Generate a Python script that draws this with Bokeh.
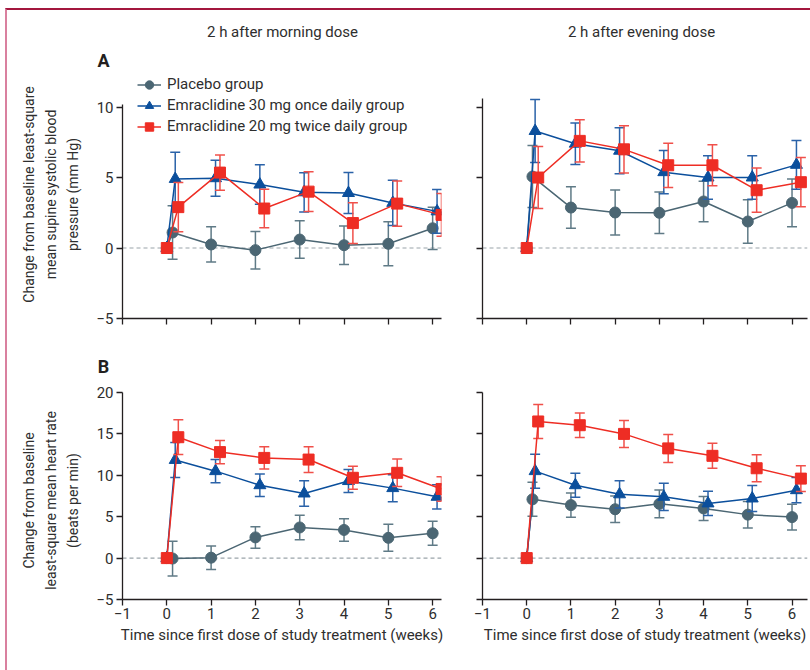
import math
from bokeh.plotting import figure
from bokeh.models import Range1d, FixedTicker, Span, Legend, LegendItem
from bokeh.layouts import column, row
from bokeh.core.properties import value
from bokeh.embed import file_html
from bokeh.resources import INLINE

# ---------------- data ----------------
weeks_placebo = [0, 0.13, 1.0, 2.0, 3.0, 4.0, 5.0, 6.0]
weeks_30mg = [0, 0.19, 1.1, 2.1, 3.1, 4.1, 5.1, 6.1]
weeks_20mg = [0, 0.26, 1.2, 2.2, 3.2, 4.2, 5.2, 6.2]

# A: systolic blood pressure, 2 h after morning dose
sbp_am_placebo = [0, 1.1, 0.25, -0.15, 0.6, 0.2, 0.3, 1.4]
sbp_am_placebo_err = [0, 1.9, 1.25, 1.33, 1.33, 1.37, 1.56, 1.5]
sbp_am_30mg = [0, 4.9, 4.95, 4.5, 3.95, 3.9, 3.2, 2.6]
sbp_am_30mg_err = [0, 1.9, 1.27, 1.4, 1.39, 1.45, 1.6, 1.55]
sbp_am_20mg = [0, 2.9, 5.35, 2.8, 4.0, 1.77, 3.15, 2.35]
sbp_am_20mg_err = [0, 1.74, 1.25, 1.36, 1.41, 1.45, 1.6, 1.52]

# A: systolic blood pressure, 2 h after evening dose
sbp_pm_placebo = [0, 5.07, 2.87, 2.52, 2.5, 3.3, 1.88, 3.2]
sbp_pm_placebo_err = [0, 2.2, 1.47, 1.6, 1.47, 1.43, 1.55, 1.7]
sbp_pm_30mg = [0, 8.3, 7.4, 6.9, 5.38, 5.0, 5.0, 5.9]
sbp_pm_30mg_err = [0, 2.23, 1.47, 1.64, 1.53, 1.54, 1.54, 1.73]
sbp_pm_20mg = [0, 5.0, 7.6, 7.0, 5.87, 5.87, 4.1, 4.67]
sbp_pm_20mg_err = [0, 2.2, 1.5, 1.67, 1.57, 1.46, 1.57, 1.75]

# B: heart rate, 2 h after morning dose
hr_am_placebo = [0, -0.05, 0.05, 2.5, 3.7, 3.4, 2.45, 3.0]
hr_am_placebo_err = [0, 2.1, 1.42, 1.3, 1.49, 1.36, 1.63, 1.45]
hr_am_30mg = [0, 11.85, 10.5, 8.8, 7.8, 9.3, 8.45, 7.4]
hr_am_30mg_err = [0, 2.12, 1.4, 1.35, 1.55, 1.39, 1.63, 1.46]
hr_am_20mg = [0, 14.6, 12.8, 12.1, 11.9, 9.7, 10.3, 8.35]
hr_am_20mg_err = [0, 2.1, 1.4, 1.35, 1.55, 1.39, 1.66, 1.48]

# B: heart rate, 2 h after evening dose
hr_pm_placebo = [0, 7.1, 6.4, 5.9, 6.55, 6.0, 5.25, 4.95]
hr_pm_placebo_err = [0, 2.05, 1.46, 1.6, 1.68, 1.45, 1.6, 1.55]
hr_pm_30mg = [0, 10.5, 8.8, 7.7, 7.4, 6.6, 7.2, 8.2]
hr_pm_30mg_err = [0, 2.05, 1.46, 1.65, 1.65, 1.46, 1.58, 1.52]
hr_pm_20mg = [0, 16.5, 16.05, 15.0, 13.25, 12.35, 10.85, 9.6]
hr_pm_20mg_err = [0, 2.05, 1.48, 1.63, 1.69, 1.51, 1.63, 1.55]

x_ticks = [-1, 0, 1, 2, 3, 4, 5, 6]
sbp_ticks = [-5, 0, 5, 10]
hr_ticks = [-5, 0, 5, 10, 15, 20]

group_names = ["Placebo group", "Emraclidine 30 mg once daily group",
               "Emraclidine 20 mg twice daily group"]
column_titles = ["2 h after morning dose", "2 h after evening dose"]
panel_letters = ["A", "B"]
x_title = "Time since first dose of study treatment (weeks)"
y_title_a = ["Change from baseline least-square", "mean supine systolic blood", "pressure (mm Hg)"]
y_title_b = ["Change from baseline", "least-square mean heart rate", "(beats per min)"]

# ---------------- style ----------------
FONT = "Roboto"
TXT = "#2e2e2e"
AX = "#231f20"
STY = [
    dict(color="#4b6673", err="#5f7a86", marker="circle", size=11),
    dict(color="#0b4f9c", err="#2a62a8", marker="triangle", size=12),
    dict(color="#ee2d24", err="#f0504a", marker="square", size=11),
]


def draw_group(p, x, y, e, st):
    xs = [a for a, b in zip(x, e) if b > 0]
    hi = [v + b for v, b in zip(y, e) if b > 0]
    lo = [v - b for v, b in zip(y, e) if b > 0]
    p.segment(x0=xs, y0=lo, x1=xs, y1=hi, line_color=st["err"], line_width=1.5)
    p.scatter(xs, hi, marker="dash", size=10, line_color=st["err"], line_width=1.5)
    p.scatter(xs, lo, marker="dash", size=10, line_color=st["err"], line_width=1.5)
    ln = p.line(x, y, line_color=st["color"], line_width=1.5)
    sc = p.scatter(x, y, marker=st["marker"], size=st["size"],
                   fill_color=st["color"], line_color=st["color"])
    return ln, sc


def make_fig(width, height, xend, ybot, ytop, ybounds, yticks, mbl, mbr, mbt, mbb,
             xlabels, ylabels):
    p = figure(width=width, height=height, x_range=Range1d(-1, xend),
               y_range=Range1d(ybot, ytop), output_backend="svg",
               toolbar_location=None, min_border_left=mbl, min_border_right=mbr,
               min_border_top=mbt, min_border_bottom=mbb)
    p.outline_line_color = None
    p.grid.visible = False
    for ax in (p.xaxis, p.yaxis):
        ax.axis_line_color = AX
        ax.axis_line_width = 1.3
        ax.major_tick_line_color = AX
        ax.major_tick_line_width = 1.3
        ax.major_tick_out = 6
        ax.major_tick_in = 0
        ax.minor_tick_line_color = None
        ax.major_label_text_font = FONT
        ax.major_label_text_font_size = "15px"
        ax.major_label_text_color = TXT
    p.xaxis.ticker = FixedTicker(ticks=x_ticks)
    p.yaxis.ticker = FixedTicker(ticks=yticks)
    p.yaxis.bounds = ybounds
    p.xaxis.major_label_standoff = 2
    p.yaxis.major_label_standoff = 3
    if not xlabels:
        p.xaxis.major_label_text_color = None
    else:
        p.xaxis.axis_label = x_title
        p.xaxis.axis_label_text_font = FONT
        p.xaxis.axis_label_text_font_size = "15px"
        p.xaxis.axis_label_text_font_style = "normal"
        p.xaxis.axis_label_text_color = TXT
        p.xaxis.axis_label_standoff = 4
    if not ylabels:
        p.yaxis.major_label_text_color = None
    p.add_layout(Span(location=0, dimension="width", line_color="#9aa4a9",
                      line_dash="4 3", line_width=1.2, level="underlay"))
    return p


def strip(w, h):
    p = figure(width=w, height=h, x_range=Range1d(0, w), y_range=Range1d(0, h),
               output_backend="svg", toolbar_location=None, min_border=0,
               x_axis_type=None, y_axis_type=None)
    p.outline_line_color = None
    return p


def add_series(p, x_list, y_list, e_list):
    return [draw_group(p, x, y, e, st) for x, y, e, st in zip(x_list, y_list, e_list, STY)]


WX = [weeks_placebo, weeks_30mg, weeks_20mg]

# geometry: content begins 7px right and 10px down (page border)
W_L, W_R = 360, 358
H_T, H_M, H_B = 280, 30, 287
W_STRIP, H_HEAD = 85, 63

tl = make_fig(W_L, H_T, 6.2, -5, 12.38, (-5, 10.15), sbp_ticks, 30, 11, 0, 35, False, True)
tr = make_fig(W_R, H_T, 6.35, -5, 12.38, (-5, 10.6), sbp_ticks, 30, 3, 0, 35, False, False)
bl = make_fig(W_L, H_B, 6.2, -5, 20, (-5, 20), hr_ticks, 30, 11, 9, 71, True, True)
br = make_fig(W_R, H_B, 6.35, -5, 20, (-5, 20), hr_ticks, 30, 3, 9, 71, True, False)

rend = add_series(tl, WX, [sbp_am_placebo, sbp_am_30mg, sbp_am_20mg],
                  [sbp_am_placebo_err, sbp_am_30mg_err, sbp_am_20mg_err])
add_series(tr, WX, [sbp_pm_placebo, sbp_pm_30mg, sbp_pm_20mg],
           [sbp_pm_placebo_err, sbp_pm_30mg_err, sbp_pm_20mg_err])
add_series(bl, WX, [hr_am_placebo, hr_am_30mg, hr_am_20mg],
           [hr_am_placebo_err, hr_am_30mg_err, hr_am_20mg_err])
add_series(br, WX, [hr_pm_placebo, hr_pm_30mg, hr_pm_20mg],
           [hr_pm_placebo_err, hr_pm_30mg_err, hr_pm_20mg_err])

# legend (inside the top-left frame)
items = [LegendItem(label=n, renderers=[r[0], r[1]]) for n, r in zip(group_names, rend)]
leg = Legend(items=items, location=(15, 181.5), padding=0, margin=0, spacing=0,
             glyph_width=24, glyph_height=21, label_height=21, label_standoff=6,
             border_line_color=None, background_fill_alpha=0,
             label_text_font=FONT, label_text_font_size="15px", label_text_color=TXT)
tl.add_layout(leg)

# header strip: column titles and panel letter A
head = strip(W_STRIP + W_L + W_R, H_HEAD)
head.text(x=[275, 634], y=[42, 42], text=column_titles, text_align="center",
          text_baseline="middle", text_font=value(FONT), text_font_size=value("15px"),
          text_color=TXT)
head.text(x=[96], y=[13], text=panel_letters[:1], text_align="center",
          text_baseline="middle", text_font=value(FONT), text_font_size=value("18px"),
          text_font_style="bold", text_color=AX)

# middle strip: panel letter B
mid = strip(W_L + W_R, H_M)
mid.text(x=[11], y=[17], text=panel_letters[1:], text_align="center",
         text_baseline="middle", text_font=value(FONT), text_font_size=value("18px"),
         text_font_style="bold", text_color=AX)

# left strip: y-axis titles
left = strip(W_STRIP, H_T + H_M + H_B)
for lines, yc in ((y_title_a, 476), (y_title_b, 170)):
    left.text(x=[21, 43, 65], y=[yc] * 3, text=lines, angle=math.pi / 2,
              text_align="center", text_baseline="middle", text_font=value(FONT),
              text_font_size=value("14px"), text_color=TXT)

layout = column(
    head,
    row(left, column(row(tl, tr), mid, row(bl, br))),
    styles={"margin-left": "5px", "margin-top": "8px",
            "border-left": "2px solid #d9809f",
            "border-top": "2px solid #a3173e"})

open("out.html", "w").write(file_html(layout, INLINE))
